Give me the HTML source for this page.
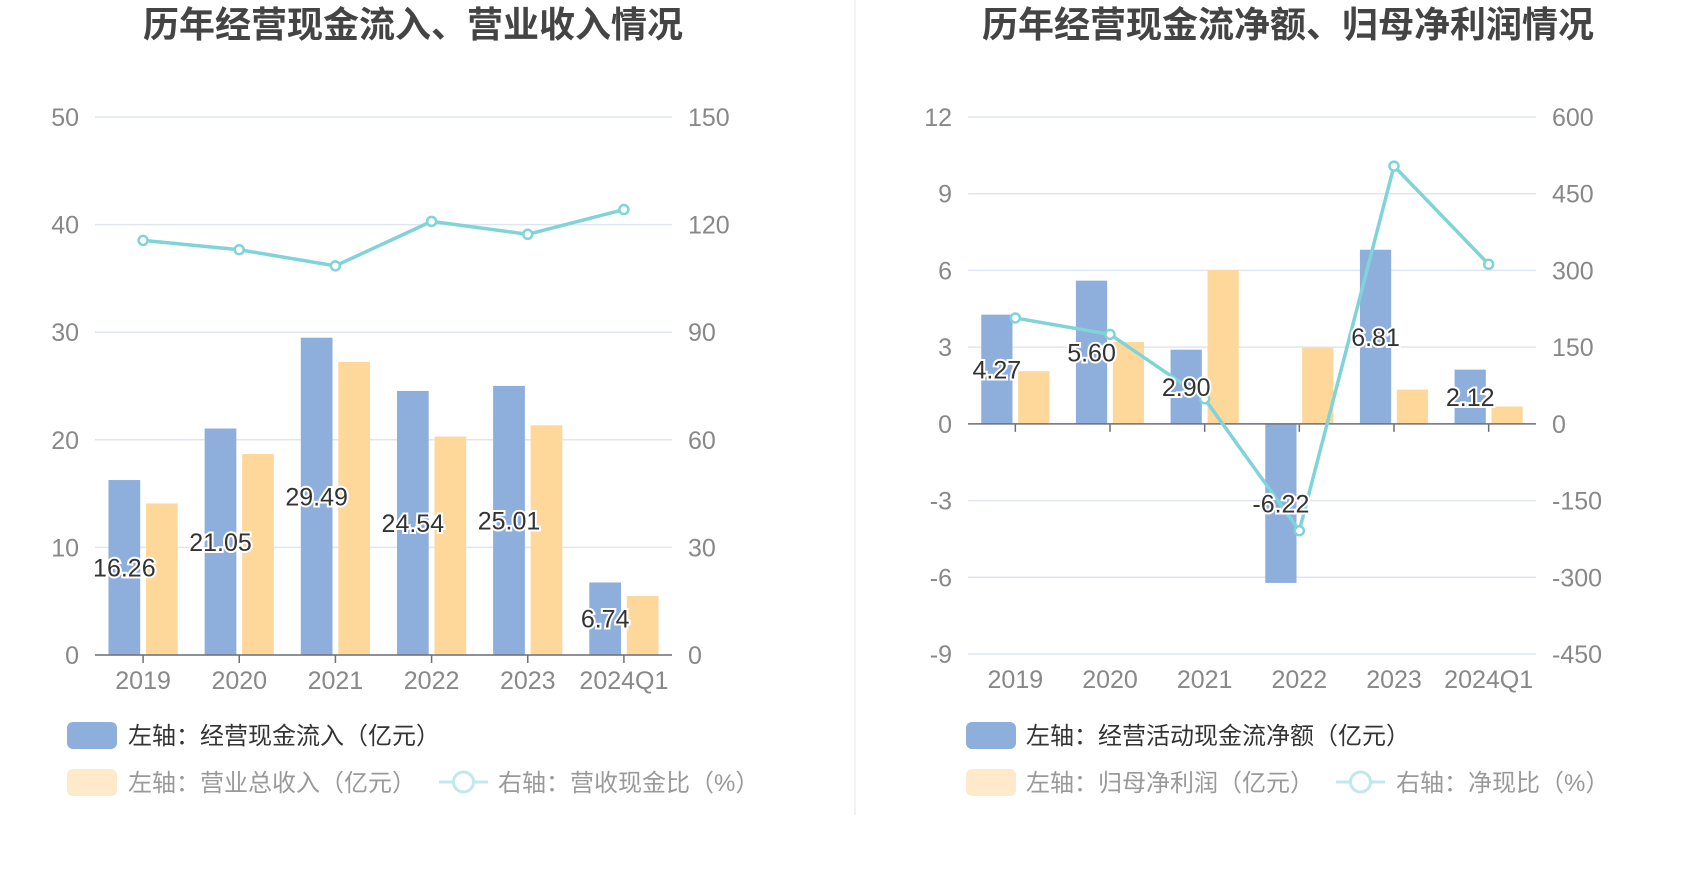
<!DOCTYPE html>
<html><head><meta charset="utf-8">
<style>
html,body{margin:0;padding:0;background:#fff;}
svg{display:block;font-family:"Liberation Sans","Noto Sans CJK SC",sans-serif;}
</style></head>
<body>
<svg id="s" width="1700" height="874" viewBox="0 0 1700 874">
<line x1="855" y1="0" x2="855" y2="815" stroke="#eee" stroke-width="1.5"/>
<text x="413" y="37" text-anchor="middle" font-size="36" font-weight="bold" fill="#444">历年经营现金流入、营业收入情况</text>
<text x="1288" y="37" text-anchor="middle" font-size="36" font-weight="bold" fill="#444">历年经营现金流净额、归母净利润情况</text>
<g id="g1"></g><g id="g2"></g>
<rect x="67" y="722" width="50" height="27" rx="6" fill="#8eaedb"/>
<text x="128" y="744" font-size="24" fill="#333">左轴：经营现金流入（亿元）</text>
<rect x="67" y="769" width="50" height="27" rx="6" fill="#feeacb"/>
<text x="128" y="791" font-size="24" fill="#999">左轴：营业总收入（亿元）</text>
<line x1="439" y1="782" x2="488" y2="782" stroke="#bfe9ea" stroke-width="3"/>
<circle cx="463.5" cy="782" r="10" fill="#fff" stroke="#bfe9ea" stroke-width="3"/>
<text x="498" y="791" font-size="24" fill="#999">右轴：营收现金比（%）</text>
<rect x="966" y="722" width="50" height="27" rx="6" fill="#8eaedb"/>
<text x="1026" y="744" font-size="24" fill="#333">左轴：经营活动现金流净额（亿元）</text>
<rect x="966" y="769" width="50" height="27" rx="6" fill="#feeacb"/>
<text x="1026" y="791" font-size="24" fill="#999">左轴：归母净利润（亿元）</text>
<line x1="1336" y1="782" x2="1385" y2="782" stroke="#bfe9ea" stroke-width="3"/>
<circle cx="1360.5" cy="782" r="10" fill="#fff" stroke="#bfe9ea" stroke-width="3"/>
<text x="1396" y="791" font-size="24" fill="#999">右轴：净现比（%）</text>
</svg>
<script>
const categories = ["2019","2020","2021","2022","2023","2024Q1"];
const cashInflow = [16.26,21.05,29.49,24.54,25.01,6.74];
const revenue = [14.09,18.68,27.24,20.30,21.35,5.48];
const cashRatio = [115.6,113.0,108.5,120.9,117.3,124.2];
const leftTicks1 = [0,10,20,30,40,50];
const rightTicks1 = [0,30,60,90,120,150];
const netCash = [4.27,5.60,2.90,-6.22,6.81,2.12];
const netProfit = [2.06,3.20,6.01,2.98,1.34,0.68];
const netRatio = [207,175,49,-209,504,312];
const leftTicks2 = [-9,-6,-3,0,3,6,9,12];
const rightTicks2 = [-450,-300,-150,0,150,300,450,600];

const NS="http://www.w3.org/2000/svg";
function mk(parent,tag,attrs,txt){const e=document.createElementNS(NS,tag);for(const k in attrs)e.setAttribute(k,attrs[k]);if(txt!==undefined)e.textContent=txt;parent.appendChild(e);return e;}

function draw(g,cfg){
  const {x0,x1,yTop,yBot,lmin,lmax,rmin,rmax,lt,rt,blue,yellow,line,prefix}=cfg;
  const yL=v=>yBot-(v-lmin)/(lmax-lmin)*(yBot-yTop);
  const yR=v=>yBot-(v-rmin)/(rmax-rmin)*(yBot-yTop);
  const cw=(x1-x0)/categories.length;
  const xc=i=>x0+cw*(i+0.5);
  lt.forEach((t,i)=>{
    const y=yL(t);
    const gl=mk(g,'line',{x1:x0,x2:x1,y1:y,y2:y,stroke:'#e0e6f1','stroke-width':1.5});
    
    
    const tl=mk(g,'text',{x:x0-16,y:y+9,'text-anchor':'end','font-size':25,fill:'#888'},t);
    
    
    const tr=mk(g,'text',{x:x1+16,y:yR(rt[i])+9,'font-size':25,fill:'#888'},rt[i]);
    
    
  });
  const y0=yL(0);
  categories.forEach((c,i)=>{
    const bw=cw*0.33, gap=cw*0.06;
    const bx=xc(i)-gap/2-bw, yx=xc(i)+gap/2;
    const yb=yL(blue[i]);
    const b=mk(g,'rect',{x:bx,y:Math.min(yb,y0),width:bw,height:Math.abs(y0-yb),fill:'#8eaedb'});
    
    
    const yy=yL(yellow[i]);
    const yb2=mk(g,'rect',{x:yx,y:Math.min(yy,y0),width:bw,height:Math.abs(y0-yy),fill:'#fed89b'});
    
    
    const xl=mk(g,'text',{x:xc(i),y:yBot+34,'text-anchor':'middle','font-size':25,fill:'#888'},c);
    
    
    const tk=mk(g,'line',{x1:xc(i),x2:xc(i),y1:y0,y2:y0+8,stroke:'#6e7079','stroke-width':1.5});
    
    
  });
  const ax=mk(g,'line',{x1:x0,x2:x1,y1:y0,y2:y0,stroke:'#6e7079','stroke-width':1.5});
  
  
  const pts=line.map((v,i)=>xc(i)+','+yR(v)).join(' ');
  const pl=mk(g,'polyline',{points:pts,fill:'none',stroke:'#80d4d8','stroke-width':3.5,'stroke-linejoin':'round'});
  
  
  line.forEach((v,i)=>{
    const p=mk(g,'circle',{cx:xc(i),cy:yR(v),r:4.5,fill:'#fff',stroke:'#80d4d8','stroke-width':2.5});
    
    
  });
  blue.forEach((v,i)=>{
    const bw=cw*0.33, gap=cw*0.06;
    const cx=xc(i)-gap/2-bw/2;
    const my=(yL(v)+y0)/2;
    const l=mk(g,'text',{x:cx,y:my+9,'text-anchor':'middle','font-size':25,fill:'#333',stroke:'#fff','stroke-width':4,'paint-order':'stroke'},v.toFixed(2));
    
    
  });
}
draw(document.getElementById('g1'),{x0:95,x1:672,yTop:117,yBot:655,lmin:0,lmax:50,rmin:0,rmax:150,lt:leftTicks1,rt:rightTicks1,blue:cashInflow,yellow:revenue,line:cashRatio,prefix:'left'});
draw(document.getElementById('g2'),{x0:968,x1:1536,yTop:117,yBot:654,lmin:-9,lmax:12,rmin:-450,rmax:600,lt:leftTicks2,rt:rightTicks2,blue:netCash,yellow:netProfit,line:netRatio,prefix:'right'});
</script>
</body></html>
